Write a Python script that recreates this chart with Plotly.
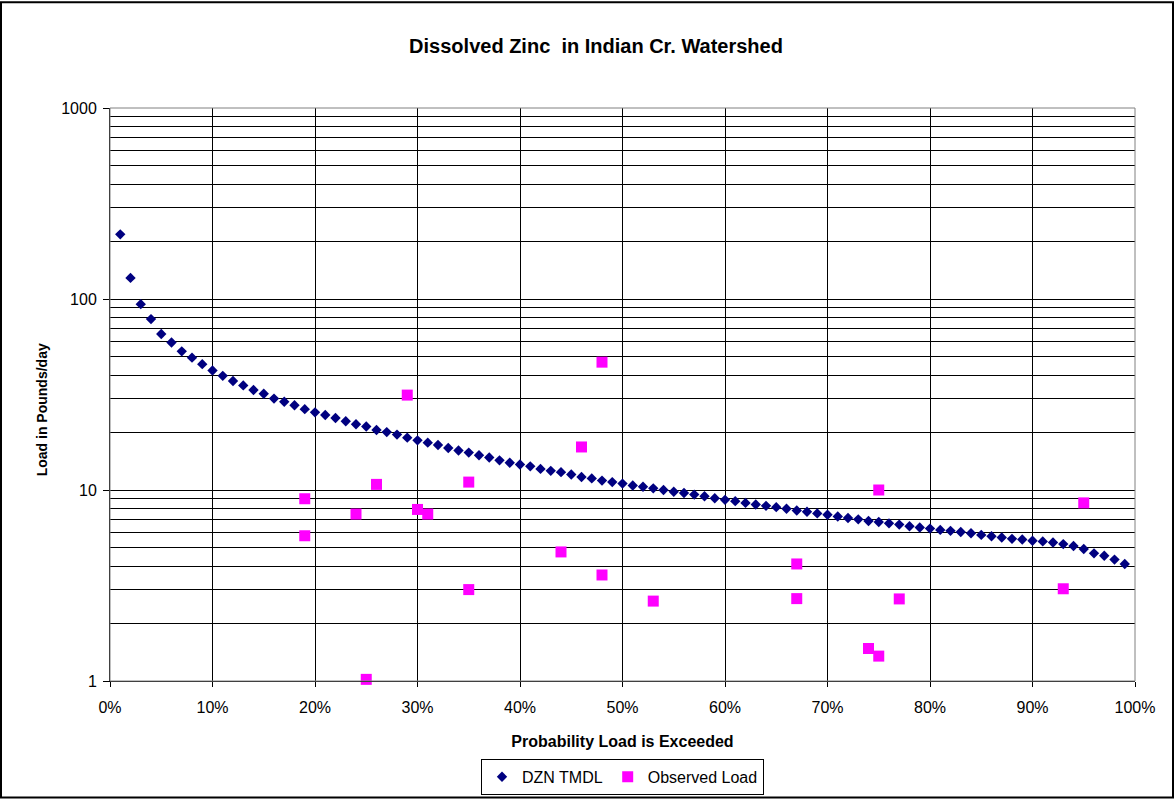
import plotly.graph_objects as go

# ---- data ----
tmdl_prob = [p / 100 for p in range(1, 100)]
tmdl_load = [218, 129, 94, 78.5, 65.6, 59.2, 53.2, 49.3, 45.6, 42.2,
             39.6, 37.2, 35.3, 33.4, 31.9, 30.1, 29.0, 27.8, 26.5, 25.5,
             24.7, 23.8, 22.9, 22.1, 21.5, 20.6, 20.1, 19.5, 18.8, 18.2,
             17.7, 17.2, 16.6, 16.1, 15.7, 15.2, 14.8, 14.3, 13.9, 13.6,
             13.3, 12.9, 12.6, 12.4, 12.05, 11.7, 11.5, 11.2, 11.0, 10.8,
             10.55, 10.4, 10.2, 10.0, 9.80, 9.65, 9.46, 9.27, 9.05, 8.88,
             8.74, 8.56, 8.40, 8.26, 8.13, 7.97, 7.81, 7.69, 7.54, 7.42,
             7.27, 7.13, 7.02, 6.88, 6.80, 6.69, 6.59, 6.46, 6.36, 6.28,
             6.18, 6.11, 6.03, 5.94, 5.82, 5.73, 5.64, 5.55, 5.51, 5.42,
             5.38, 5.31, 5.21, 5.09, 4.91, 4.66, 4.53, 4.32, 4.10]

obs_prob = [0.19, 0.19, 0.24, 0.25, 0.26, 0.29, 0.30, 0.31, 0.35, 0.35, 0.44, 0.46,
            0.48, 0.48, 0.53, 0.67, 0.67, 0.74, 0.75, 0.75, 0.77, 0.93, 0.95]
obs_load = [9.0, 5.76, 7.48, 1.02, 10.7, 31.4, 7.91, 7.48, 11.0, 3.01, 4.74, 16.8,
            46.7, 3.59, 2.62, 4.10, 2.70, 1.48, 10.0, 1.35, 2.69, 3.04, 8.56]

y_tickvals = [1, 10, 100, 1000]
y_ticktext = ["1", "10", "100", "1000"]

title_text = "Dissolved Zinc  in Indian Cr. Watershed"
x_title = "Probability Load is Exceeded"
y_title = "Load in Pounds/day"

FONT = "Liberation Sans, Arial, sans-serif"

fig = go.Figure()
fig.add_trace(go.Scatter(
    x=tmdl_prob, y=tmdl_load, mode="markers", name="DZN TMDL",
    marker=dict(symbol="diamond", size=8, color="#000080"),
    cliponaxis=False,
))
fig.add_trace(go.Scatter(
    x=obs_prob, y=obs_load, mode="markers", name="Observed Load",
    marker=dict(symbol="square", size=11, color="#FF00FF"),
    cliponaxis=False,
))

W, H = 1174, 807
L, R, T, B = 110, 39, 108, 119
pw, ph = W - L - R, H - T - B

def px_x(x):
    return (x - L) / pw

def px_y(y):
    return (H - B - y) / ph

fig.update_layout(
    width=W, height=H, autosize=False,
    margin=dict(l=L, r=R, t=T, b=B),
    paper_bgcolor="white", plot_bgcolor="white",
    font=dict(family=FONT, size=16, color="black"),
    title=dict(text="<b>" + title_text + "</b>", x=596 / W, xanchor="center",
               y=1 - 46 / H, yanchor="middle", xref="container", yref="container",
               font=dict(size=20, family=FONT, color="black")),
    showlegend=True,
    legend=dict(orientation="h", x=0.5, xanchor="center", y=px_y(785), yanchor="middle",
                bordercolor="black", borderwidth=1, bgcolor="white",
                font=dict(size=16, family=FONT), itemwidth=30, tracegroupgap=0),
    xaxis=dict(range=[0, 1], dtick=0.1, tick0=0, tickformat=".0%",
               showgrid=True, gridcolor="black", gridwidth=1,
               showline=True, linecolor="black", linewidth=1,
               ticks="outside", ticklen=5, tickcolor="black",
               ticklabelstandoff=7,
               zeroline=False, fixedrange=True,
               title=dict(text="<b>" + x_title + "</b>", standoff=20,
                          font=dict(size=16, family=FONT))),
    yaxis=dict(type="log", range=[0, 3], tickmode="array", tickvals=y_tickvals,
               ticktext=y_ticktext, showgrid=True, gridcolor="black", gridwidth=1,
               showline=True, linecolor="black", linewidth=1,
               ticks="outside", ticklen=6, tickcolor="black",
               ticklabelstandoff=3,
               minor=dict(dtick="D1", showgrid=True, gridcolor="black", gridwidth=1, ticks=""),
               zeroline=False, fixedrange=True),
    annotations=[
        dict(text="<b>" + y_title + "</b>", xref="paper", yref="paper",
             x=px_x(42), y=px_y(414), xanchor="center", yanchor="middle",
             textangle=-90, showarrow=False, font=dict(size=14, family=FONT)),
    ],
    shapes=[
        dict(type="rect", xref="paper", yref="paper", x0=0, x1=1, y0=0, y1=1,
             line=dict(color="#808080", width=1), layer="above"),
        dict(type="rect", xref="paper", yref="paper",
             x0=px_x(1), x1=px_x(1173), y0=px_y(806), y1=px_y(1),
             line=dict(color="black", width=2)),
    ],
)

fig.write_html(
    "out.html",
    config={"responsive": False, "displayModeBar": False},
    post_script="document.body.style.margin='0';document.body.style.overflow='hidden';",
)
